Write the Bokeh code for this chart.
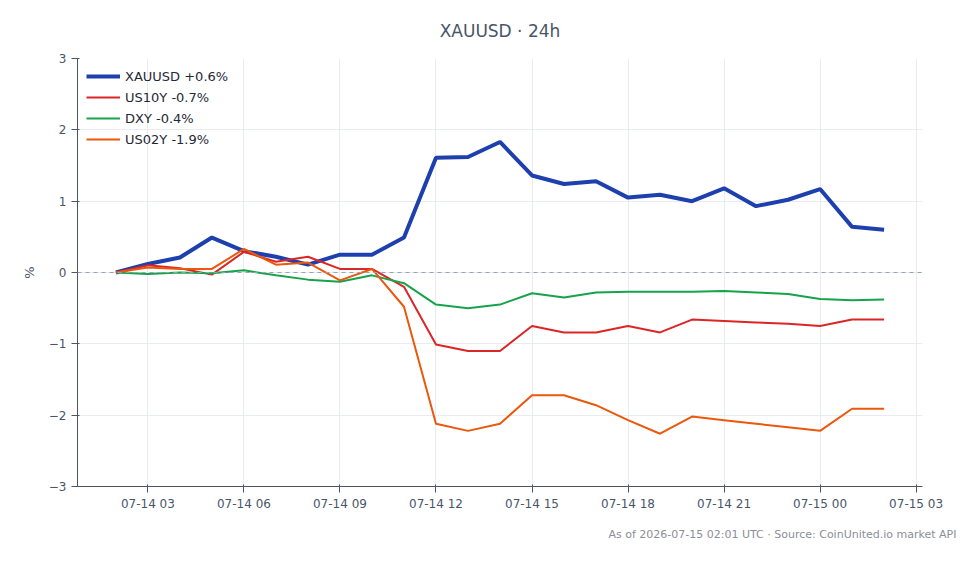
import pandas as pd
from bokeh.plotting import figure
from bokeh.models import (Span, FixedTicker, DatetimeTickFormatter, Title, Legend,
                          LegendItem, Range1d)
from bokeh.embed import file_html
from bokeh.resources import INLINE

# ---- data ----
times = pd.date_range("2026-07-14 02:00", "2026-07-15 02:00", freq="1h")
xauusd = [0.00, 0.12, 0.21, 0.49, 0.30, 0.22, 0.11, 0.25, 0.25, 0.49, 1.61, 1.62, 1.83,
          1.36, 1.24, 1.28, 1.05, 1.09, 1.00, 1.18, 0.93, 1.02, 1.17, 0.64, 0.60]
us10y = [0.00, 0.10, 0.06, -0.03, 0.29, 0.15, 0.22, 0.05, 0.05, -0.20, -1.01, -1.10, -1.10,
         -0.75, -0.84, -0.84, -0.75, -0.84, -0.66, -0.68, -0.70, -0.72, -0.75, -0.66, -0.66]
dxy = [0.00, -0.02, 0.00, -0.01, 0.03, -0.04, -0.10, -0.13, -0.04, -0.15, -0.45, -0.50, -0.45,
       -0.29, -0.35, -0.28, -0.27, -0.27, -0.27, -0.26, -0.28, -0.30, -0.37, -0.39, -0.38]
us02y = [0.00, 0.07, 0.05, 0.05, 0.33, 0.11, 0.14, -0.11, 0.05, -0.48, -2.12, -2.22, -2.12,
         -1.72, -1.72, -1.86, -2.07, -2.26, -2.02, -2.07, -2.12, -2.17, -2.22, -1.91, -1.91]
series_names = ["XAUUSD +0.6%", "US10Y -0.7%", "DXY -0.4%", "US02Y -1.9%"]
y_ticks = [-3, -2, -1, 0, 1, 2, 3]
x_tick_times = pd.date_range("2026-07-14 03:00", "2026-07-15 03:00", freq="3h")

FONT = "DejaVu Sans"
TXT = "#4a5568"

p = figure(width=980, height=564, x_axis_type="datetime", output_backend="svg",
           toolbar_location=None, y_range=Range1d(-3, 3),
           min_border_left=77, min_border_right=58, min_border_top=58, min_border_bottom=78)
p.outline_line_color = None

p.title.text = "XAUUSD · 24h"
p.title.align = "center"
p.title.text_font = FONT
p.title.text_font_size = "17px"
p.title.text_font_style = "normal"
p.title.text_color = TXT
p.title.standoff = 36

foot = Title(text="As of 2026-07-15 02:01 UTC · Source: CoinUnited.io market API",
             align="right", text_font=FONT, text_font_size="11px", text_font_style="normal",
             text_color="#8a8f99", offset=-34, standoff=25)
p.add_layout(foot, "below")

zero = Span(location=0, dimension="width", line_color="#94a3b8", line_dash="4 4", line_width=1)
p.add_layout(zero)

r1 = p.line(times, xauusd, line_color="#1e40af", line_width=4)
r2 = p.line(times, us10y, line_color="#dc2626", line_width=2)
r3 = p.line(times, dxy, line_color="#16a34a", line_width=2)
r4 = p.line(times, us02y, line_color="#ea580c", line_width=2)

legend = Legend(items=[LegendItem(label=n, renderers=[r]) for n, r in
                       zip(series_names, [r1, r2, r3, r4])],
                location="top_left", margin=4, padding=5, spacing=3,
                glyph_width=34, glyph_height=18, label_height=18,
                label_text_font=FONT, label_text_font_size="13px", label_text_color="#1f2937",
                background_fill_alpha=0, border_line_alpha=0)
p.add_layout(legend)

p.xaxis.ticker = FixedTicker(ticks=[t.value / 1e6 for t in x_tick_times])
p.xaxis.formatter = DatetimeTickFormatter(hours="%m-%d %H", days="%m-%d %H",
                                          minutes="%m-%d %H", months="%m-%d %H")
p.yaxis.ticker = FixedTicker(ticks=y_ticks)
p.yaxis.axis_label = "%"

for ax in (p.xaxis[0], p.yaxis[0]):
    ax.axis_line_color = "#4a5568"
    ax.major_tick_line_color = "#4a5568"
    ax.minor_tick_line_color = None
    ax.major_label_text_font = FONT
    ax.major_label_text_font_size = "12px"
    ax.major_label_text_color = TXT
    ax.axis_label_text_font = FONT
    ax.axis_label_text_font_size = "13px"
    ax.axis_label_text_font_style = "normal"
    ax.axis_label_text_color = TXT
p.yaxis.axis_label_standoff = 9
p.xaxis.major_label_standoff = 4

p.xgrid.grid_line_color = "#e8ebf0"
p.ygrid.grid_line_color = "#e8ebf0"

open("out.html", "w").write(file_html(p, INLINE))
